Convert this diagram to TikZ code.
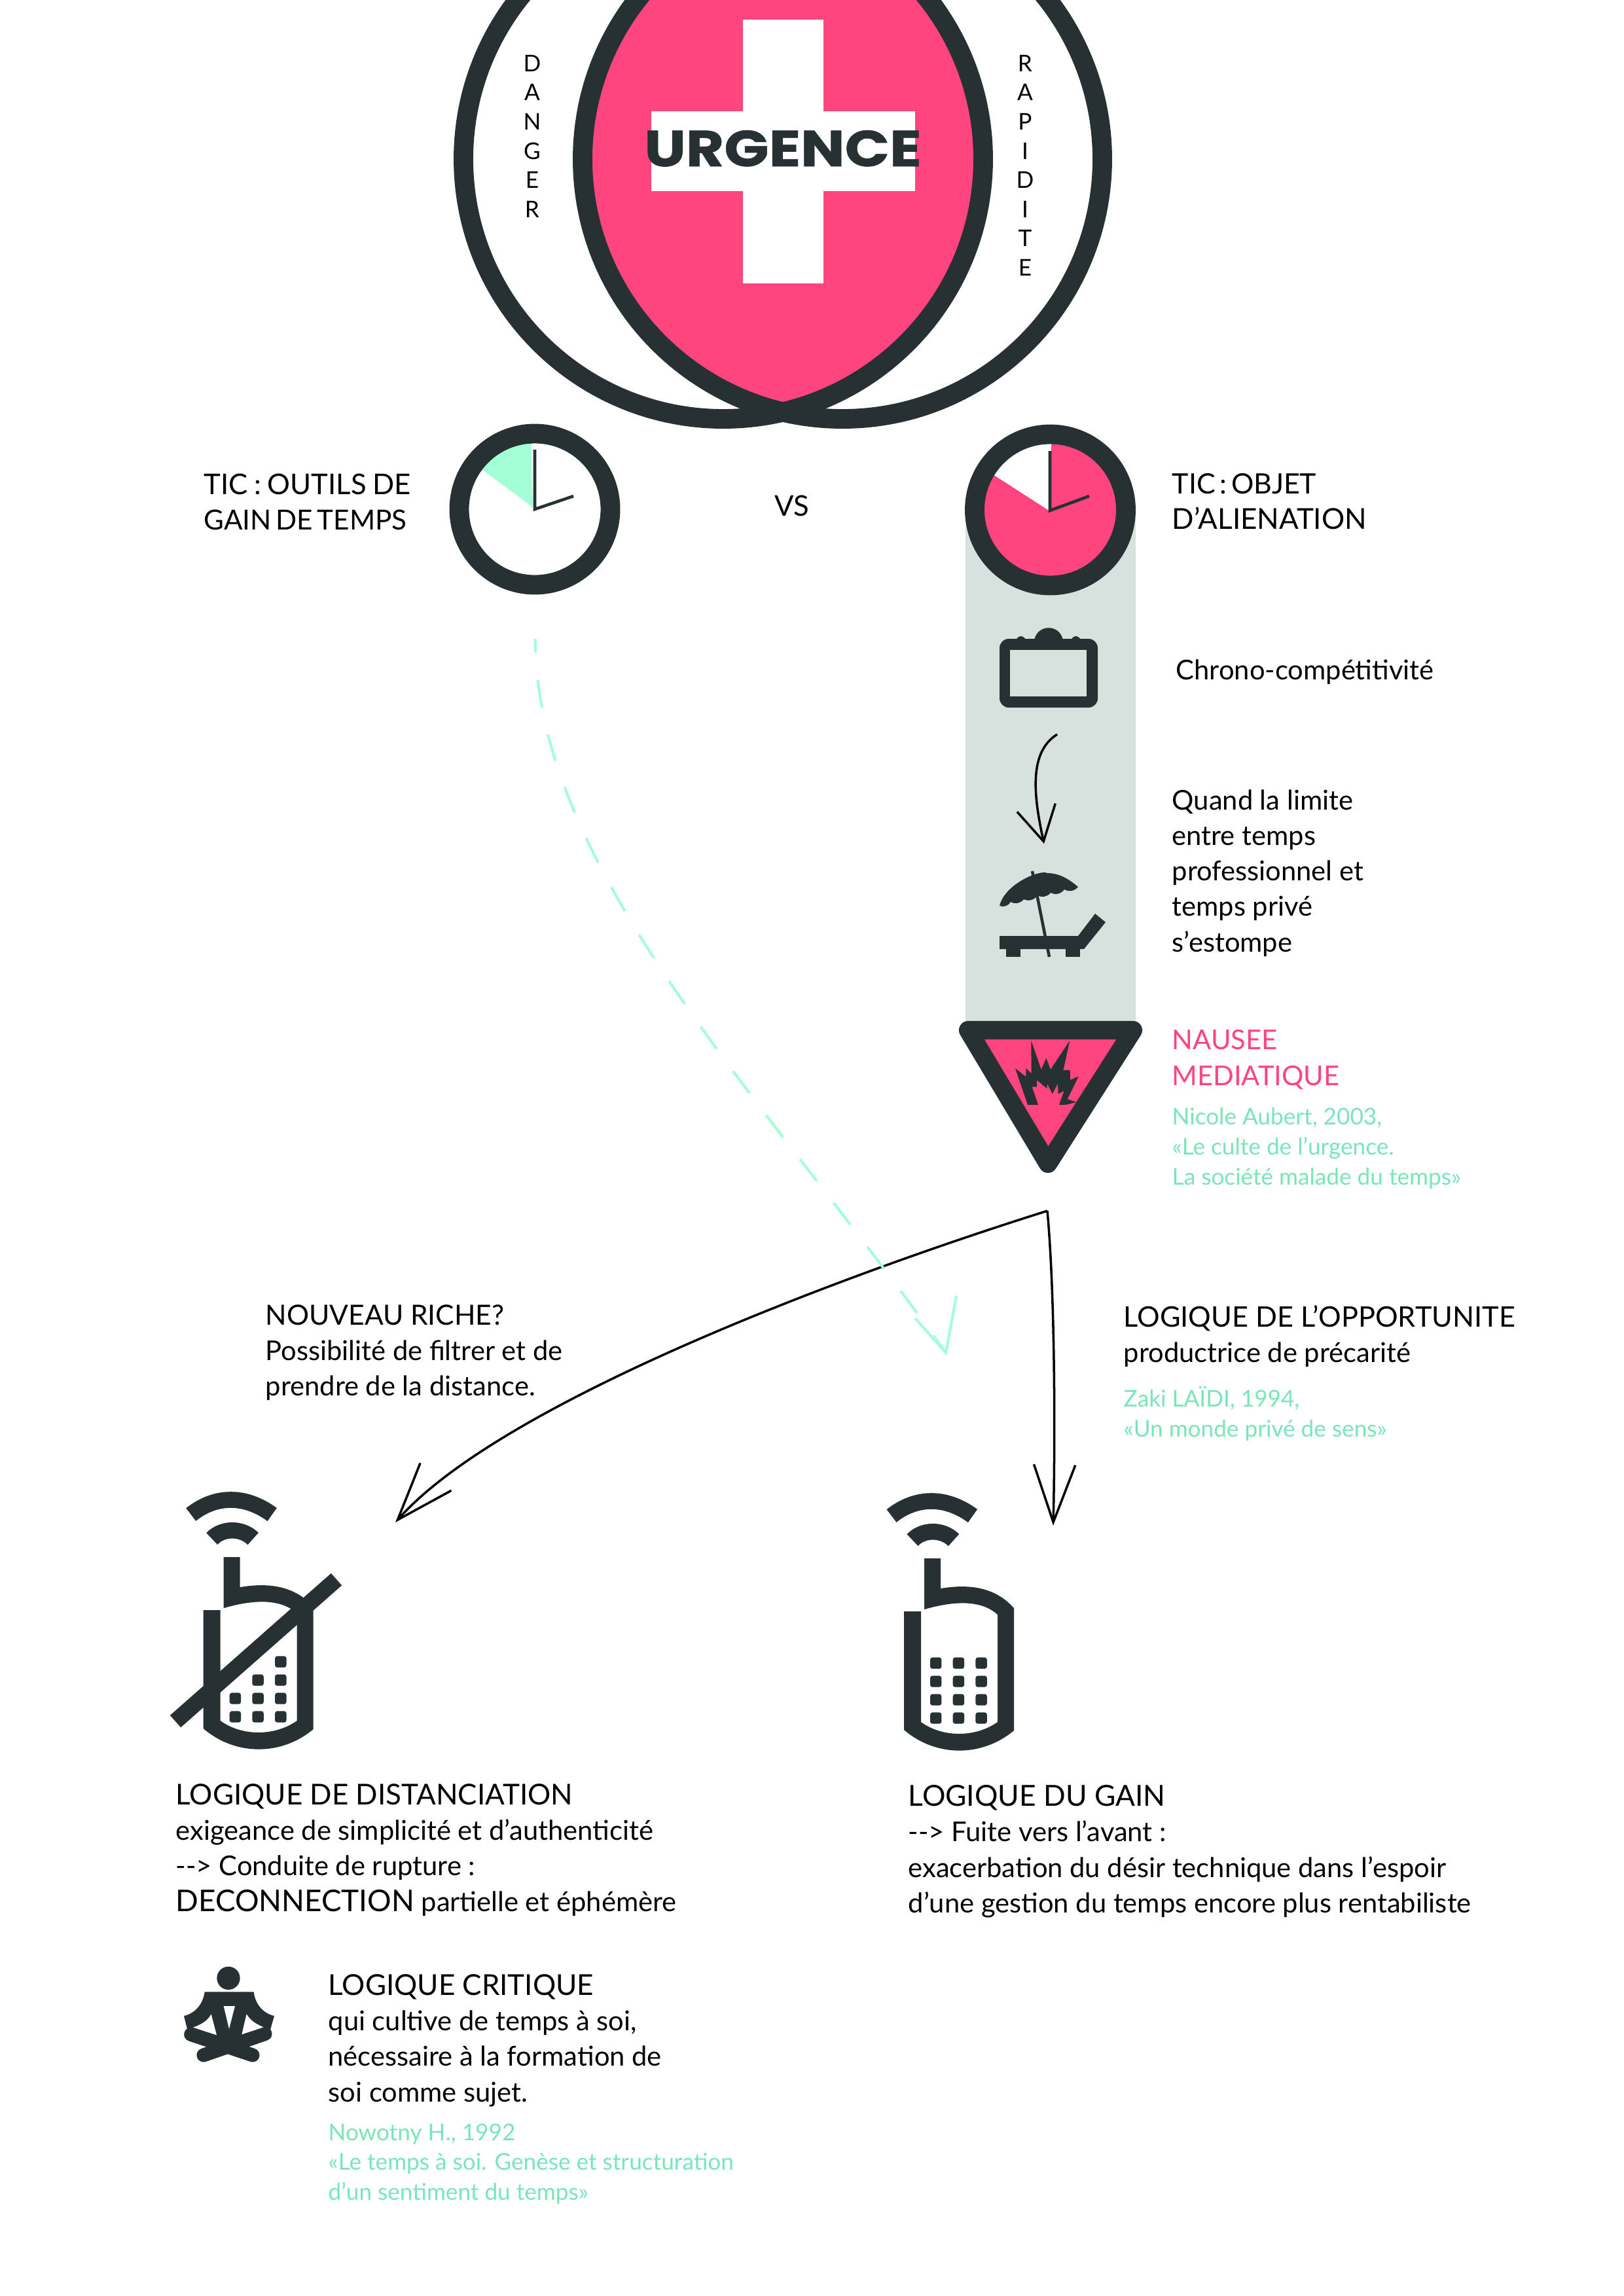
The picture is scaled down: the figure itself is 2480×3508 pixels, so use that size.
\documentclass[tikz,border=0pt]{standalone}
\usepackage{fontspec}
\setmainfont{Lato}
\newfontfamily\urgfont[FakeStretch=1.16,FakeBold=0.8]{Poppins}
\usetikzlibrary{arrows.meta}
\definecolor{ink}{HTML}{273033}
\definecolor{rose}{HTML}{FF4580}
\definecolor{band}{HTML}{D7E2DF}
\definecolor{mint}{HTML}{A3FFD6}
\definecolor{refmint}{HTML}{78E6B8}
\newcommand{\up}[2][12.5]{{\fontsize{#1}{15.4}\selectfont #2}}
\tikzset{
	txt/.style={anchor=north west,inner sep=0pt,align=left,font=\fontsize{11.85}{15.4}\selectfont,execute at begin node=\strut},
	refs/.style={anchor=north west,inner sep=0pt,align=left,text=refmint,font=\fontsize{10}{13}\selectfont,execute at begin node=\strut},
	letter/.style={inner sep=0pt,font=\fontsize{10}{12}\selectfont},
	ring/.style={draw=ink,line width=8.5pt},
	hand/.style={draw=ink,line width=1.3pt},
	bigarrow/.style={line width=1pt,-{Straight Barb[length=25pt,width=18pt]}},
	phonearc/.style={draw=ink,line width=7pt},
	phonekey/.style={fill=ink,rounded corners=1pt},
	phone/.pic={
		\draw[phonearc] (22,46) .. controls (60,16) and (105,16) .. (146,46);
		\draw[phonearc] (54,83) .. controls (70,66) and (100,66) .. (117,83);
		\fill[ink] (72,111) -- (97,111) -- (97,157) .. controls (150,148) and (185,160) .. (209,187) -- (209,374) .. controls (160,415) and (90,415) .. (41,373) -- (41,192) -- (67,192) -- (67,361) .. controls (100,385) and (150,385) .. (184,361) -- (184,197) .. controls (160,175) and (120,175) .. (72,189) -- cycle;
	},
}
\begin{document}
\begin{tikzpicture}[x=0.01cm,y=-0.01cm]
	\useasboundingbox (0,0) rectangle (2480,3508);
	\coordinate (L) at (1105,243);
	\coordinate (R) at (1287,243);
	\begin{scope}
		\clip (L) circle (397);
		\fill[rose] (R) circle (397);
	\end{scope}
	\fill[white] (1135,30) rectangle (1258,433);
	\fill[white] (995,170) rectangle (1398,292);
	\draw[ring] (L) circle (397);
	\draw[ring] (R) circle (397);
	\node[anchor=base,inner sep=0pt,text=ink,font=\urgfont\bfseries\fontsize{22}{24}\selectfont] (urgence) at (1196,254) {URGENCE};
	\foreach \c [count=\i] in {D,A,N,G,E,R}
		\node[letter] (danger\i) at (813,52+44.6*\i) {\c};
	\foreach \c [count=\i] in {R,A,P,I,D,I,T,E}
		\node[letter] (rapidite\i) at (1566,52+44.6*\i) {\c};

	% horloges
	\coordinate (G) at (817,778);
	\coordinate (O) at (1604.5,779);
	\fill[band] (1475,779) rectangle (1735,1565);
	\fill[white] (G) circle (110);
	\fill[mint] (814,775) -- (811,668) -- (770,668) -- (728,711) -- cycle;
	\draw[ring] (G) circle (115.5);
	\draw[hand] (817,687) -- (817,778) -- (876,758);
	\fill[rose] (O) circle (110);
	\fill[white] (1604,781) -- (1606,668) -- (1560,668) -- (1511,721) -- cycle;
	\draw[ring] (O) circle (115.5);
	\draw[hand] (1604,689) -- (1604,780) -- (1664,758);

	\node[txt] (outils) at (311,723) {\up[12.4]{\spaceskip=.22em TIC : OUTILS DE}\\\up[12]{\spaceskip=.16em GAIN DE TEMPS}};
	\node[anchor=base,inner sep=0pt,font=\fontsize{12.4}{15.4}\selectfont] (vs) at (1210,788) {VS};
	\node[txt] (objet) at (1790,723) {\up[12.2]{\spaceskip=.16em TIC : OBJET}\\\up[12.5]{D’ALIENATION}};

	% valise
	\draw[fill=ink,draw=none,rounded corners=4pt] (1527,976) rectangle (1677,1081);
	\fill[ink] (1580,978) .. controls (1585,953) and (1619,953) .. (1624,978) -- cycle;
	\fill[ink] (1552,978) .. controls (1556,970) and (1564,970) .. (1567,978) -- cycle;
	\fill[ink] (1636,978) .. controls (1640,970) and (1648,970) .. (1651,978) -- cycle;
	\fill[band] (1543,993) rectangle (1660,1064);
	\node[txt] (chrono) at (1796,1000) {Chrono-compétitivité};

	\coordinate (va) at (1615,1122);
	\coordinate (vb) at (1595,1289);
	\draw[line width=1pt,-{Straight Barb[length=15pt,width=17pt]}] (va) .. controls (1570,1150) and (1580,1220) .. (vb);

	% transat
	\fill[ink] (1527,1384) .. controls (1535,1350) and (1590,1328) .. (1600,1334) .. controls (1620,1334) and (1635,1345) .. (1647,1355)
		to[bend left=40] (1626,1359) to[bend left=40] (1605,1364) to[bend left=40] (1585,1368) to[bend left=40] (1564,1374) to[bend left=40] (1544,1378) to[bend left=40] (1527,1384) -- cycle;
	\draw[draw=ink,line width=1.3pt] (1577,1331) -- (1603,1462);
	\fill[ink] (1527,1430) -- (1647,1430) -- (1673,1396) -- (1689,1409) -- (1656,1450) -- (1527,1450) -- cycle;
	\fill[ink] (1537,1450) rectangle (1559,1462);
	\fill[ink] (1628,1450) rectangle (1650,1462);
	\node[txt] (limite) at (1790,1206) {Quand la limite\\entre temps\\professionnel et\\temps privé\\s’estompe};

	% triangle
	\draw[fill=rose,draw=ink,line width=8pt,line join=round] (1479,1574) -- (1731,1574) -- (1601,1778) -- cycle;
	\begin{scope}[shift={(1520,1570)},scale=0.3333]
		\fill[ink] (166,60) -- (212,192) -- (235,140) -- (255,192) -- (343,60) -- (313,195) -- (344,195) -- (345,240) -- (383,224) -- (332,328) -- (373,342) -- (325,354) -- (294,354) -- (317,290) -- (290,304) -- (288,257) -- (263,304) -- (240,258) -- (238,280) -- (192,240) -- (192,272) -- (170,272) -- (198,354) -- (150,354) -- (93,187) -- (142,225) -- (142,187) -- (167,210) -- cycle;
	\end{scope}
	\node[txt,text=rose] (nausee) at (1790,1573) {NAUSEE\\MEDIATIQUE};
	\node[refs] (aubert) at (1790,1692) {Nicole Aubert, 2003,\\«Le culte de l’urgence.\\La société malade du temps»};

	% fleches
	\coordinate (fork) at (1600,1850);
	\coordinate (dist) at (604,2326);
	\coordinate (gain) at (1609,2331);
	\coordinate (depart) at (817.5,976);
	\coordinate (fin) at (1445,2067);
	\coordinate (fina) at (1398,2014);
	\coordinate (finb) at (1461,1980);
	\draw[bigarrow] (fork) .. controls (1250,1960) and (760,2150) .. (dist);
	\draw[bigarrow] (fork) .. controls (1612,1980) and (1612,2200) .. (gain);
	\draw[color=mint,line width=1.15pt,dash pattern=on 12pt off 12pt,dash phase=6pt] (depart) .. controls (820,1330) and (1170,1680) .. (fin);
	\draw[color=mint,line width=1.15pt] (fina) -- (fin) -- (finb);

	\node[txt] (riche) at (405,1993) {\up[12.1]{NOUVEAU RICHE?}\\Possibilité de filtrer et de\\prendre de la distance.};
	\node[txt] (opport) at (1716,1994) {\up[12.3]{LOGIQUE DE L’OPPORTUNITE}\\productrice de précarité};
	\node[refs] (zaki) at (1716,2118) {Zaki LAÏDI, 1994,\\«Un monde privé de sens»};

	% telephones
	\pic at (269.7,2268) {phone};
	\pic at (1340,2270) {phone};
	\draw[draw=ink,line width=7pt] (268,2630) -- (514,2413);
	\foreach \kx/\ky in {3/1,2/2,3/2,1/3,2/3,3/3,1/4,2/4,3/4}
		\fill[phonekey] (269.7+55+34.7*\kx-8.7,2268+243+28*\ky-8.7) rectangle +(17.4,17.4);
	\foreach \kx in {1,2,3}
		\foreach \ky in {1,2,3,4}
			\fill[phonekey] (1340+55+34.7*\kx-8.7,2270+243+28*\ky-8.7) rectangle +(17.4,17.4);

	\node[txt] (distance) at (268,2725) {\up{LOGIQUE DE DISTANCIATION}\\exigeance de simplicité et d’authenticité\\-{}-> Conduite de rupture :\\\up[13]{DECONNECTION} partielle et éphémère};
	\node[txt] (gainlog) at (1387,2727) {\up[12.6]{LOGIQUE DU GAIN}\\-{}-> Fuite vers l’avant :\\exacerbation du désir technique dans l’espoir\\d’une gestion du temps encore plus rentabiliste};

	% lotus
	\begin{scope}[shift={(250,3000)},scale=0.3333]
		\fill[ink] (297,67) circle (53);
		\fill[ink] (188,130) -- (413,130) .. controls (420,190) and (460,230) .. (507,240) -- (490,300) -- (300,380) -- (108,300) -- (93,240) .. controls (140,230) and (180,190) .. (188,130) -- cycle;
		\draw[draw=ink,line width=6pt,line cap=round] (125,325) -- (408,420);
		\draw[draw=ink,line width=6pt,line cap=round] (465,322) -- (183,420);
		\fill[white] (135,293) .. controls (170,280) and (200,265) .. (218,232) -- (243,328) -- cycle;
		\fill[white] (458,292) .. controls (430,280) and (400,265) .. (380,232) -- (358,325) -- cycle;
		\fill[white] (275,195) -- (327,195) -- (300,300) -- cycle;
	\end{scope}
	\node[txt] (critique) at (501,3016) {\up{LOGIQUE CRITIQUE}\\qui cultive de temps à soi,\\nécessaire à la formation de\\soi comme sujet.};
	\node[refs] (nowotny) at (501,3244) {Nowotny H., 1992\\«Le temps à soi. Genèse et structuration\\d’un sentiment du temps»};
\end{tikzpicture}
\end{document}
